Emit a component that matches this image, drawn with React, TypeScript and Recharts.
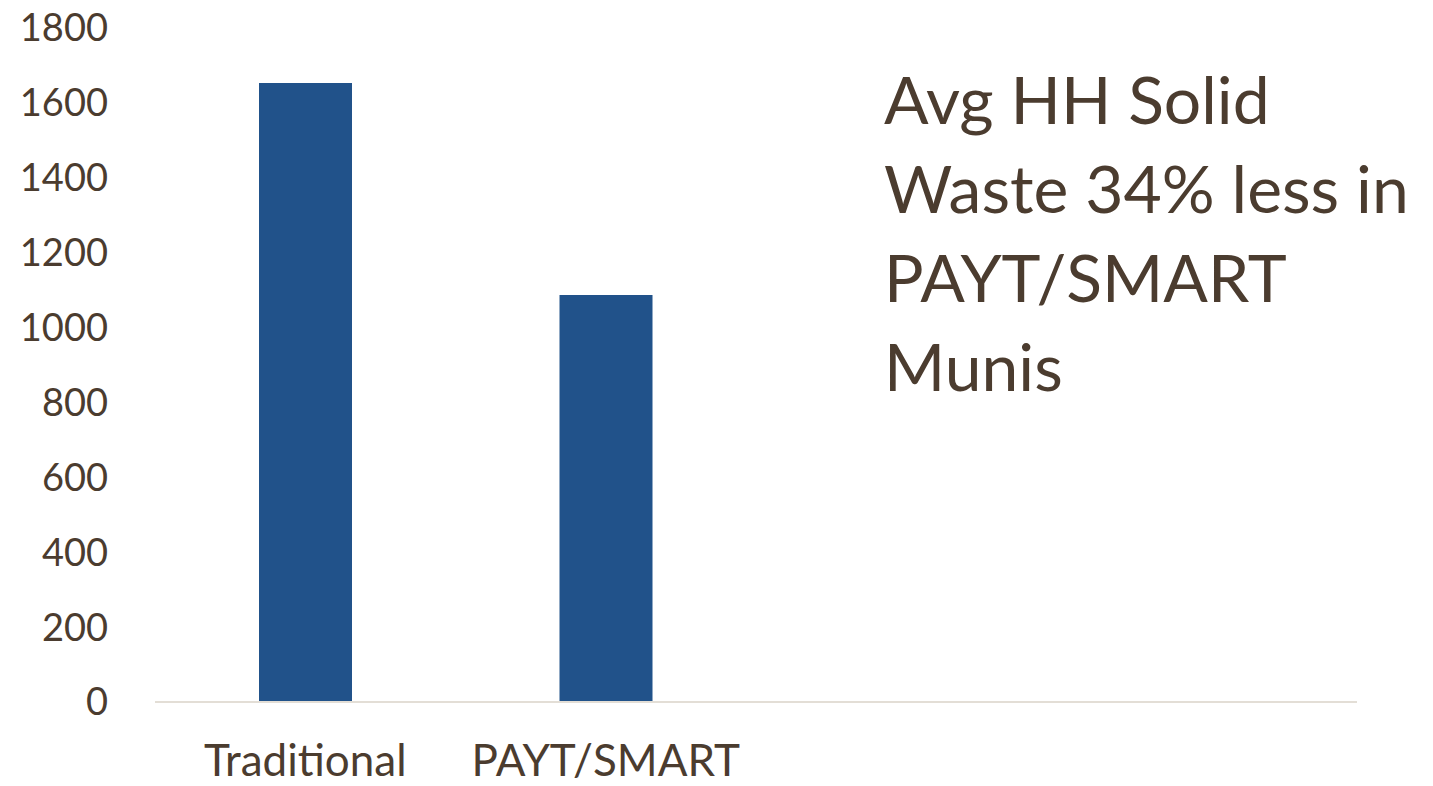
import { Bar, BarChart, XAxis, YAxis } from "recharts";

// values
const categories = ["Traditional", "PAYT/SMART", "", ""];
const wasteValues: (number | null)[] = [1653, 1087, null, null];
const yTicks = [0, 200, 400, 600, 800, 1000, 1200, 1400, 1600, 1800];
const noteLines = ["Avg HH Solid", "Waste 34% less in", "PAYT/SMART", "Munis"];

const BAR = "#21528a";
const TEXT = "#4b3c2f";
const AXIS_LINE = "#e3ded6";
const FONT = "Lato, 'Open Sans', sans-serif";

const data = categories.map((c, i) => ({ cat: c, waste: wasteValues[i] }));

export default function App() {
  return (
    <div style={{ position: "absolute", left: 0, top: 0, width: 1433, height: 786, background: "#fff", fontFamily: FONT }}>
      <BarChart
        width={1433}
        height={786}
        data={data}
        margin={{ top: 28, right: 76, bottom: 0, left: 0 }}
      >
        <XAxis
          dataKey="cat"
          height={84}
          stroke={AXIS_LINE}
          strokeWidth={2}
          tickLine={false}
          tickSize={0}
          tickMargin={43}
          tick={{ fontSize: 44, fill: TEXT, fontFamily: FONT }}
          interval={0}
        />
        <YAxis
          width={155}
          domain={[0, 1800]}
          ticks={yTicks}
          axisLine={false}
          tickLine={false}
          tickSize={0}
          tickMargin={47}
          tick={{ fontSize: 38, fill: TEXT, fontFamily: FONT }}
        />
        <Bar dataKey="waste" fill={BAR} barSize={93} isAnimationActive={false} />
      </BarChart>
      <div
        style={{
          position: "absolute",
          left: 884,
          top: 54,
          fontSize: 66,
          lineHeight: "89px",
          color: TEXT,
          whiteSpace: "nowrap",
        }}
      >
        {noteLines.map((l) => (
          <div key={l}>{l}</div>
        ))}
      </div>
    </div>
  );
}
